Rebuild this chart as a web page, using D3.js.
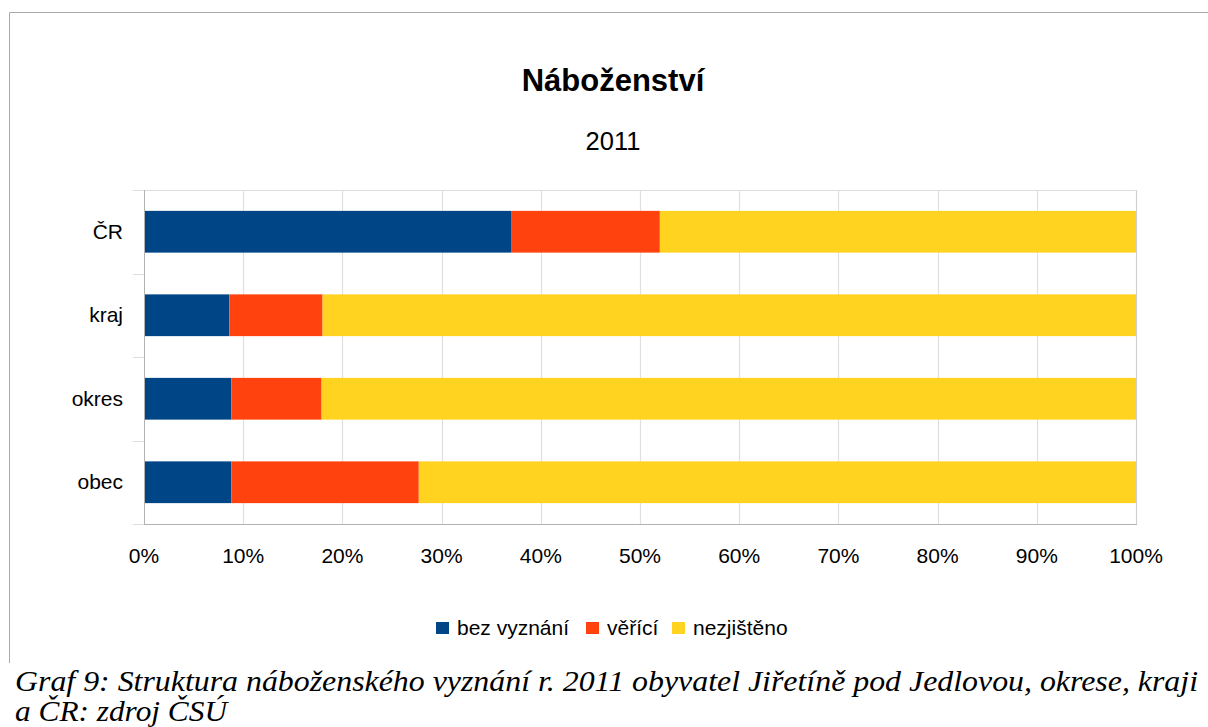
<!DOCTYPE html>
<html>
<head>
<meta charset="utf-8">
<script src="https://cdn.jsdelivr.net/npm/d3@7"></script>
<style>
  body { margin: 0; background: #fff; }
  svg { display: block; }
</style>
</head>
<body>
<svg id="chart" width="1208" height="727"></svg>
<script>
// data
const categories = ['ČR', 'kraj', 'okres', 'obec'];
const seriesNames = ['bez vyznání', 'věřící', 'nezjištěno'];
const bezVyznani = [37.0, 8.6, 8.8, 8.8];
const verici = [15.0, 9.4, 9.1, 18.9];
const nezjisteno = [48.0, 82.0, 82.1, 72.3];
const xTicks = [0, 10, 20, 30, 40, 50, 60, 70, 80, 90, 100];
const colors = ['#004586', '#ff420e', '#ffd320'];

const svg = d3.select('#chart');
const font = '"Liberation Sans", Arial, sans-serif';

// frame lines (top + left only visible)
svg.append('line').attr('x1', 9.5).attr('x2', 1208).attr('y1', 12.5).attr('y2', 12.5)
    .attr('stroke', '#aaa').attr('stroke-width', 1);
svg.append('line').attr('x1', 9.5).attr('x2', 9.5).attr('y1', 12.5).attr('y2', 663)
    .attr('stroke', '#aaa').attr('stroke-width', 1);

// titles
svg.append('text').attr('x', 613).attr('y', 91).attr('text-anchor', 'middle')
    .style('font-family', font).style('font-weight', 'bold').style('font-size', '31px')
    .text('Náboženství');
svg.append('text').attr('x', 613).attr('y', 150).attr('text-anchor', 'middle')
    .style('font-family', font).style('font-size', '25.5px')
    .text('2011');

const plotLeft = 144, plotRight = 1136, plotTop = 190, plotBottom = 524;

const x = d3.scaleLinear().domain([0, 100]).range([plotLeft, plotRight]);
const y = d3.scaleBand().domain(categories).range([plotTop, plotBottom]).paddingInner(0.5).paddingOuter(0.25);

// build rows for stacking
let rows = categories.map((c, i) => ({
    cat: c,
    'bez vyznání': bezVyznani[i],
    'věřící': verici[i],
    'nezjištěno': nezjisteno[i]
}));
let stack = d3.stack().keys(seriesNames).offset(d3.stackOffsetExpand)(rows);

// grid
let g = svg.append('g');
g.selectAll('line.grid').data(xTicks.slice(1)).enter().append('line')
    .attr('class', 'grid')
    .attr('x1', d => Math.round(x(d)) + 0.5).attr('x2', d => Math.round(x(d)) + 0.5)
    .attr('y1', plotTop).attr('y2', plotBottom)
    .attr('stroke', '#e0e0e0').attr('stroke-width', 1.2);

// category boundary ticks on the left
let bounds = d3.range(categories.length + 1).map(i => plotTop + i * (plotBottom - plotTop) / categories.length);
g.selectAll('line.ctick').data(bounds).enter().append('line')
    .attr('x1', 133).attr('x2', plotLeft)
    .attr('y1', d => Math.round(d) + 0.5).attr('y2', d => Math.round(d) + 0.5)
    .attr('stroke', '#ddd').attr('stroke-width', 1);
g.append('line').attr('x1', plotLeft).attr('x2', plotRight).attr('y1', plotTop + 0.5).attr('y2', plotTop + 0.5)
    .attr('stroke', '#ddd').attr('stroke-width', 1.2);

// bars
let layers = svg.append('g').selectAll('g').data(stack).enter().append('g')
    .attr('fill', (d, i) => colors[i]);
layers.selectAll('rect').data(d => d).enter().append('rect')
    .attr('x', d => x(d[0] * 100))
    .attr('width', d => x(d[1] * 100) - x(d[0] * 100))
    .attr('y', d => y(d.data.cat))
    .attr('height', y.bandwidth());

// axes lines
svg.append('line').attr('x1', plotLeft + 0.5).attr('x2', plotLeft + 0.5).attr('y1', plotTop).attr('y2', plotBottom)
    .attr('stroke', '#b3b3b3').attr('stroke-width', 1);
svg.append('line').attr('x1', plotLeft).attr('x2', plotRight + 1).attr('y1', plotBottom + 0.5).attr('y2', plotBottom + 0.5)
    .attr('stroke', '#b3b3b3').attr('stroke-width', 1);
svg.append('line').attr('x1', plotRight + 0.5).attr('x2', plotRight + 0.5).attr('y1', plotTop).attr('y2', plotBottom)
    .attr('stroke', '#d0d0d0').attr('stroke-width', 1);

// category labels
svg.append('g').selectAll('text').data(categories).enter().append('text')
    .attr('x', 123).attr('y', d => y(d) + y.bandwidth() / 2 + 7)
    .attr('text-anchor', 'end')
    .style('font-family', font).style('font-size', '21px')
    .text(d => d);

// x tick labels
svg.append('g').selectAll('text').data(xTicks).enter().append('text')
    .attr('x', d => x(d)).attr('y', 563)
    .attr('text-anchor', 'middle')
    .style('font-family', font).style('font-size', '21px')
    .text(d => d + '%');

// legend
const legendX = [436, 586, 672];
let leg = svg.append('g').selectAll('g').data(seriesNames).enter().append('g')
    .attr('transform', (d, i) => 'translate(' + legendX[i] + ',622)');
leg.append('rect').attr('width', 13).attr('height', 12).attr('fill', (d, i) => colors[i]);
leg.append('text').attr('x', 21).attr('y', 13)
    .style('font-family', font).style('font-size', '21px')
    .text(d => d);

// caption
const capFont = '"Liberation Serif", "Times New Roman", serif';
svg.append('text').attr('x', 15).attr('y', 691)
    .style('font-family', capFont).style('font-style', 'italic').style('font-size', '30px')
    .attr('textLength', 1183).attr('lengthAdjust', 'spacingAndGlyphs')
    .text('Graf 9: Struktura náboženského vyznání r. 2011 obyvatel Jiřetíně pod Jedlovou, okrese, kraji');
svg.append('text').attr('x', 15).attr('y', 721)
    .style('font-family', capFont).style('font-style', 'italic').style('font-size', '30px')
    .attr('textLength', 212).attr('lengthAdjust', 'spacingAndGlyphs')
    .text('a ČR: zdroj ČSÚ');
</script>
</body>
</html>
